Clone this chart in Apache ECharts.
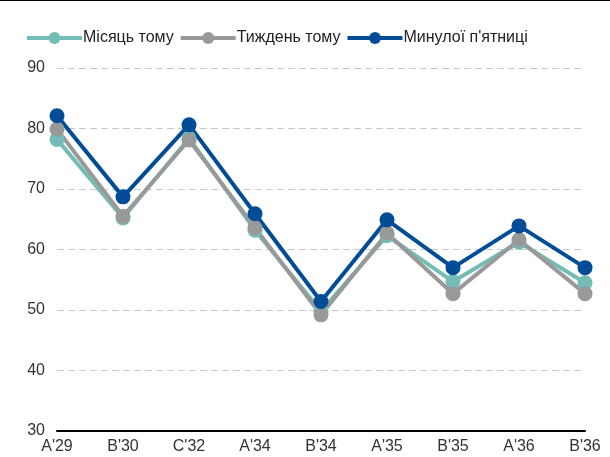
<!DOCTYPE html>
<html>
<head>
<meta charset="utf-8">
<script src="https://cdn.jsdelivr.net/npm/echarts@6/dist/echarts.min.js"></script>
<style>
  html, body { margin: 0; padding: 0; background: #fff; }
  #chart { width: 610px; height: 456px; border-top: 1px solid #000; }
</style>
</head>
<body>
<div id="chart"></div>
<script>
// categories and series values
const categories = ["A'29", "B'30", "C'32", "A'34", "B'34", "A'35", "B'35", "A'36", "B'36"];
const monthAgo = [78.2, 65.2, 78.4, 63.2, 49.8, 62.3, 54.7, 61.2, 54.5];
const weekAgo = [79.9, 65.5, 78.1, 63.6, 49.2, 62.7, 52.7, 61.6, 52.7];
const lastFriday = [82.1, 68.7, 80.6, 65.9, 51.4, 64.9, 57.0, 63.9, 57.0];

const font = "'Liberation Sans Narrow', 'Liberation Sans', Arial, sans-serif";

const makeSeries = (name, data, color) => ({
  name: name,
  type: "line",
  data: data,
  symbol: "circle",
  symbolSize: 15,
  lineStyle: { color: color, width: 4 },
  itemStyle: { color: color },
  emphasis: { disabled: true },
});

const myChart = echarts.init(document.getElementById("chart"));
const option = {
  animation: false,
  textStyle: { fontFamily: font },
  legend: {
    left: 20,
    top: 24,
    itemWidth: 55,
    itemHeight: 15,
    itemGap: 5,
    lineStyle: { width: 4 },
    textStyle: { fontFamily: font, fontSize: 16, color: "#222", padding: [0, 0, 0, -4] },
    data: ["Місяць тому", "Тиждень тому", "Минулої п'ятниці"],
  },
  grid: { left: 57, right: 25, top: 67, bottom: 26 },
  xAxis: {
    type: "category",
    boundaryGap: false,
    data: categories,
    axisLine: { lineStyle: { color: "#000", width: 2 } },
    axisTick: { show: false },
    axisLabel: { fontFamily: font, fontSize: 16, color: "#333", margin: 8 },
  },
  yAxis: {
    type: "value",
    min: 30,
    max: 90,
    interval: 10,
    axisLine: { show: false },
    axisTick: { show: false },
    axisLabel: { fontFamily: font, fontSize: 16, color: "#333", margin: 12 },
    splitLine: { lineStyle: { color: "#c8c8c8", type: [7, 4], width: 1 } },
  },
  series: [
    makeSeries("Місяць тому", monthAgo, "#74bcb6"),
    makeSeries("Тиждень тому", weekAgo, "#999999"),
    makeSeries("Минулої п'ятниці", lastFriday, "#004c97"),
  ],
};
myChart.setOption(option);
</script>
</body>
</html>
